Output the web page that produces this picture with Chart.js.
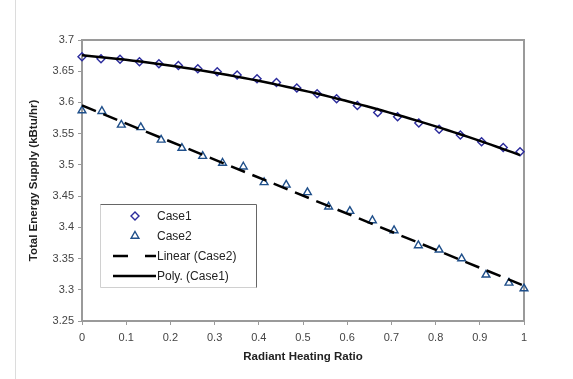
<!DOCTYPE html>
<html>
<head>
<meta charset="utf-8">
<script src="https://cdn.jsdelivr.net/npm/chart.js@4"></script>
<style>
  html, body { margin: 0; padding: 0; background: #fff; }
  canvas { display: block; }
</style>
</head>
<body>
<canvas id="c" width="573" height="379"></canvas>
<script>
// Measured supply for the two cases against the radiant heating ratio
const case1X = [0, 0.043, 0.086, 0.130, 0.174, 0.218, 0.262, 0.306, 0.351, 0.396, 0.440, 0.486,
                0.532, 0.576, 0.623, 0.669, 0.714, 0.762, 0.808, 0.856, 0.904, 0.953, 0.991];
const case1Y = [3.673, 3.670, 3.669, 3.665, 3.662, 3.659, 3.654, 3.649, 3.644, 3.638, 3.632, 3.623,
                3.614, 3.606, 3.595, 3.584, 3.577, 3.567, 3.557, 3.548, 3.537, 3.528, 3.521];

const case2X = [0, 0.045, 0.089, 0.133, 0.179, 0.226, 0.273, 0.318, 0.365, 0.412, 0.462,
                0.510, 0.558, 0.606, 0.657, 0.706, 0.761, 0.808, 0.859, 0.914, 0.966, 1.0];
const case2Y = [3.587, 3.586, 3.564, 3.560, 3.540, 3.527, 3.514, 3.503, 3.497, 3.472, 3.468,
                3.456, 3.433, 3.426, 3.411, 3.395, 3.371, 3.364, 3.350, 3.324, 3.311, 3.302];

const seriesNames = ['Case1', 'Case2', 'Linear (Case2)', 'Poly. (Case1)'];
const xTicks = { min: 0, max: 1, step: 0.1 };
const yTicks = { min: 3.25, max: 3.7, step: 0.05 };

// Least-squares polynomial fit (normal equations, Gaussian elimination)
function polyFit(xs, ys, deg) {
  const n = deg + 1;
  const A = Array.from({ length: n }, () => new Array(n + 1).fill(0));
  for (let k = 0; k < xs.length; k++) {
    for (let i = 0; i < n; i++) {
      for (let j = 0; j < n; j++) A[i][j] += Math.pow(xs[k], i + j);
      A[i][n] += ys[k] * Math.pow(xs[k], i);
    }
  }
  for (let i = 0; i < n; i++) {
    let p = i;
    for (let r = i + 1; r < n; r++) if (Math.abs(A[r][i]) > Math.abs(A[p][i])) p = r;
    [A[i], A[p]] = [A[p], A[i]];
    for (let r = 0; r < n; r++) {
      if (r === i) continue;
      const f = A[r][i] / A[i][i];
      for (let c = i; c <= n; c++) A[r][c] -= f * A[i][c];
    }
  }
  return A.map((row, i) => row[n] / row[i]);
}
function trendPoints(xs, ys, deg, samples) {
  const coef = polyFit(xs, ys, deg);
  const x0 = Math.min(...xs), x1 = Math.max(...xs);
  const pts = [];
  for (let s = 0; s <= samples; s++) {
    const x = x0 + (x1 - x0) * s / samples;
    pts.push({ x, y: coef.reduce((acc, c, i) => acc + c * Math.pow(x, i), 0) });
  }
  return pts;
}

const toXY = (xs, ys) => xs.map((x, i) => ({ x, y: ys[i] }));

const DIAMOND = '#2b2b9c';
const TRIANGLE = '#1f4f8a';
const FONT = '"Liberation Sans", Arial, sans-serif';

const fmt = v => String(parseFloat(Number(v).toFixed(2)));

// Page frame, plot-area border and the in-plot legend
const framePlugin = {
  id: 'frame',
  beforeDraw(chart) {
    const ctx = chart.ctx;
    ctx.save();
    ctx.fillStyle = '#fff';
    ctx.fillRect(0, 0, chart.width, chart.height);
    ctx.strokeStyle = '#dcdcdc';
    ctx.lineWidth = 1;
    ctx.beginPath();
    ctx.moveTo(15.5, 0);
    ctx.lineTo(15.5, chart.height);
    ctx.stroke();
    ctx.restore();
  },
  beforeDatasetsDraw(chart) {
    const { ctx, chartArea: a } = chart;
    ctx.save();
    ctx.strokeStyle = '#9a9a9a';
    ctx.lineWidth = 2;
    ctx.beginPath();
    ctx.moveTo(a.left, a.top);
    ctx.lineTo(a.right, a.top);
    ctx.lineTo(a.right, a.bottom);
    ctx.stroke();
    ctx.restore();
  },
  afterDraw(chart) {
    const ctx = chart.ctx;
    const bx = 100.5, by = 204.5, bw = 156, bh = 83;
    ctx.save();
    ctx.fillStyle = '#fff';
    ctx.fillRect(bx, by, bw, bh);
    ctx.lineWidth = 1;
    ctx.strokeStyle = '#d0d0d0';
    ctx.beginPath();
    ctx.moveTo(bx, by + bh); ctx.lineTo(bx, by);
    ctx.moveTo(bx + bw, by + bh); ctx.lineTo(bx, by + bh);
    ctx.stroke();
    ctx.strokeStyle = '#666';
    ctx.beginPath();
    ctx.moveTo(bx, by); ctx.lineTo(bx + bw, by); ctx.lineTo(bx + bw, by + bh);
    ctx.stroke();

    const rows = [216, 236, 256, 276];
    const textX = 157;

    ctx.fillStyle = 'rgba(0,0,0,0)';
    ctx.strokeStyle = DIAMOND;
    ctx.lineWidth = 1.4;
    Chart.helpers.drawPoint(ctx, { pointStyle: 'rectRot', radius: 4, rotation: 0, borderWidth: 1.4 }, 135, rows[0]);
    ctx.strokeStyle = TRIANGLE;
    Chart.helpers.drawPoint(ctx, { pointStyle: 'triangle', radius: 4.5, rotation: 0, borderWidth: 1.4 }, 135, rows[1]);

    ctx.strokeStyle = '#000';
    ctx.lineWidth = 2.5;
    ctx.setLineDash([15, 17]);
    ctx.beginPath(); ctx.moveTo(113, rows[2]); ctx.lineTo(156, rows[2]); ctx.stroke();
    ctx.setLineDash([]);
    ctx.beginPath(); ctx.moveTo(113, rows[3]); ctx.lineTo(156, rows[3]); ctx.stroke();

    ctx.font = '12px ' + FONT;
    ctx.fillStyle = '#222';
    ctx.textBaseline = 'middle';
    ctx.textAlign = 'left';
    seriesNames.forEach((name, i) => ctx.fillText(name, textX, rows[i] + 0.5));
    ctx.restore();
  }
};

new Chart(document.getElementById('c'), {
  type: 'scatter',
  data: {
    datasets: [
      {
        label: seriesNames[3],
        data: trendPoints(case1X, case1Y, 2, 60),
        showLine: true,
        borderColor: '#000',
        borderWidth: 2.5,
        pointRadius: 0,
        order: 0
      },
      {
        label: seriesNames[2],
        data: trendPoints(case2X, case2Y, 1, 1),
        showLine: true,
        borderColor: '#000',
        borderWidth: 2.5,
        borderDash: [15, 8],
        pointRadius: 0,
        order: 0
      },
      {
        label: seriesNames[0],
        data: toXY(case1X, case1Y),
        pointStyle: 'rectRot',
        pointRadius: 4,
        pointBorderWidth: 1.4,
        borderColor: DIAMOND,
        backgroundColor: 'rgba(0,0,0,0)',
        clip: false,
        order: 1
      },
      {
        label: seriesNames[1],
        data: toXY(case2X, case2Y),
        pointStyle: 'triangle',
        pointRadius: 4.5,
        pointBorderWidth: 1.4,
        borderColor: TRIANGLE,
        backgroundColor: 'rgba(0,0,0,0)',
        clip: false,
        order: 1
      }
    ]
  },
  options: {
    responsive: false,
    animation: false,
    events: [],
    layout: { padding: { left: 27, right: 49, top: 40, bottom: 15 } },
    plugins: { legend: { display: false }, tooltip: { enabled: false } },
    scales: {
      x: {
        type: 'linear',
        min: xTicks.min,
        max: xTicks.max,
        afterFit: s => { s.height = 43; },
        ticks: {
          stepSize: xTicks.step,
          callback: fmt,
          font: { family: FONT, size: 11 },
          color: '#444',
          padding: 6,
          maxRotation: 0
        },
        grid: { drawOnChartArea: false, drawTicks: true, tickLength: 4, color: '#9a9a9a' },
        border: { display: true, color: '#9a9a9a', width: 2 },
        title: {
          display: true,
          text: 'Radiant Heating Ratio',
          font: { family: FONT, size: 11.5, weight: 'bold' },
          color: '#222',
          padding: 0
        }
      },
      y: {
        type: 'linear',
        min: yTicks.min,
        max: yTicks.max,
        afterFit: s => { s.width = 55; },
        ticks: {
          stepSize: yTicks.step,
          callback: fmt,
          font: { family: FONT, size: 11 },
          color: '#444',
          padding: 4
        },
        grid: { drawOnChartArea: false, drawTicks: true, tickLength: 4, color: '#9a9a9a' },
        border: { display: true, color: '#9a9a9a', width: 2 },
        title: {
          display: true,
          text: 'Total Energy Supply (kBtu/hr)',
          font: { family: FONT, size: 11.5, weight: 'bold' },
          color: '#222',
          padding: 0
        }
      }
    }
  },
  plugins: [framePlugin]
});
</script>
</body>
</html>
